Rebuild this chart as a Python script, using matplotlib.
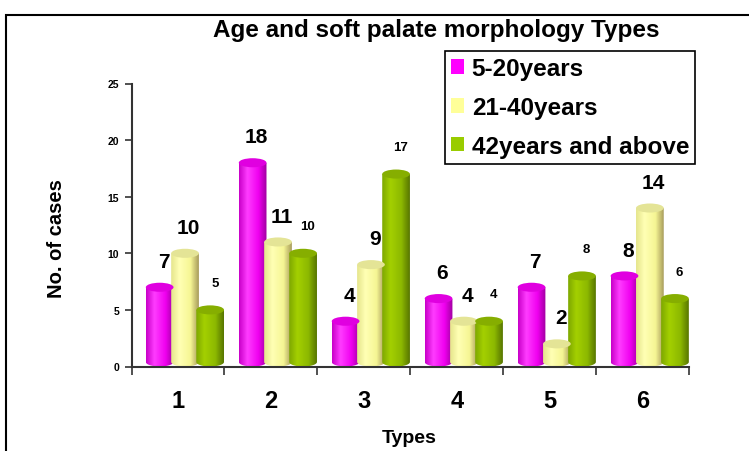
import numpy as np
import matplotlib.pyplot as plt
from matplotlib.colors import LinearSegmentedColormap
from matplotlib.patches import Ellipse, PathPatch, Patch, Rectangle
from matplotlib.path import Path

plt.rcParams['font.family'] = ['Liberation Sans', 'DejaVu Sans']
plt.rcParams['font.weight'] = 'bold'

# data
types = [1, 2, 3, 4, 5, 6]
series_names = ['5-20years', '21-40years', '42years and above']
age_5_20 = [7, 18, 4, 6, 7, 8]
age_21_40 = [10, 11, 9, 4, 2, 14]
age_42_up = [5, 10, 17, 4, 8, 6]

# cylinder shading per series: (gradient stops, top face colour, legend colour)
styles = [
    ([(0, '#C800C8'), (0.3, '#FF3CFF'), (0.7, '#F000F0'), (1, '#A000A0')], '#E000E0', '#FF00FF'),
    ([(0, '#E6E68C'), (0.3, '#FFFFB4'), (0.7, '#F6F694'), (1, '#A89C5C')], '#E4E496', '#FFFF99'),
    ([(0, '#7EA800'), (0.3, '#A4D000'), (0.7, '#8CB800'), (1, '#587600')], '#86AE00', '#99CC00'),
]
offsets = [-0.197, 0.076, 0.346]
bar_w = 0.298
ell_h = 0.8
grad = np.linspace(0, 1, 64).reshape(1, -1)

fig = plt.figure(figsize=(7.49, 4.52), dpi=100)
ax = fig.add_axes([131.5 / 749, 1 - 367.5 / 452, 557.8 / 749, 283 / 452])


def cylinder(xc, v, cmap, topc):
    x0, x1 = xc - bar_w / 2, xc + bar_w / 2
    b = ell_h / 2
    t = np.linspace(np.pi, 2 * np.pi, 30)
    arc = np.column_stack([xc + bar_w / 2 * np.cos(t), b + b * np.sin(t)])
    verts = np.vstack([[[x0, v]], arc, [[x1, v], [x0, v]]])
    body = PathPatch(Path(verts, closed=True), facecolor='none', edgecolor='none')
    ax.add_patch(body)
    im = ax.imshow(grad, cmap=cmap, extent=[x0, x1, 0, v], aspect='auto',
                   interpolation='bilinear', zorder=2)
    im.set_clip_path(body)
    ax.add_patch(Ellipse((xc, v), bar_w, ell_h, facecolor=topc,
                         edgecolor='none', zorder=3))


all_vals = [age_5_20, age_21_40, age_42_up]
for k, vals in enumerate(all_vals):
    stops, topc, _ = styles[k]
    cmap = LinearSegmentedColormap.from_list('c%d' % k, stops)
    for x, v in zip(types, vals):
        xc = x + offsets[k]
        cylinder(xc, v, cmap, topc)
        if k < 2:
            ax.text(xc + 0.04, v + 1.45, str(v), ha='center', va='bottom',
                    fontsize=15, fontweight='bold')
        else:
            ax.text(xc + 0.05, v + 1.85, str(v), ha='center', va='bottom',
                    fontsize=9.5, fontweight='bold')

ax.set_xlim(0.5, 6.5)
ax.set_ylim(0, 25)
ax.set_yticks([0, 5, 10, 15, 20, 25])
ax.set_xticks(np.arange(0.5, 7, 1))
ax.set_xticklabels([])
ax.set_xticks(types, minor=True)
ax.set_xticklabels([str(t) for t in types], minor=True, fontsize=17, fontweight='bold')
ax.tick_params(axis='x', which='minor', length=0, pad=16)
ax.tick_params(axis='x', which='major', length=6, width=1.2, color='#333333')
ax.tick_params(axis='y', length=5, width=1.2, color='#333333', labelsize=7.5, pad=4)
for s in ['top', 'right']:
    ax.spines[s].set_visible(False)
for s in ['left', 'bottom']:
    ax.spines[s].set_linewidth(1.5)
    ax.spines[s].set_color('#333333')
ax.set_facecolor('none')

fig.text(436 / 749, 1 - 31 / 452, 'Age and soft palate morphology Types',
         ha='center', va='center', fontsize=17.5, fontweight='bold')
fig.text(57 / 749, 1 - 239 / 452, 'No. of cases', rotation=90,
         ha='center', va='center', fontsize=14.5, fontweight='bold')
fig.text(409 / 749, 1 - 439 / 452, 'Types', ha='center', va='center',
         fontsize=14, fontweight='bold')

handles = [Patch(facecolor=s[2], edgecolor='none') for s in styles]
leg = fig.legend(handles, series_names, loc='upper left',
                 bbox_to_anchor=(445 / 749, 1 - 52 / 452), fancybox=False,
                 edgecolor='black', framealpha=1, prop={'size': 17.5, 'weight': 'bold'},
                 handlelength=0.55, handleheight=0.55, labelspacing=0.65,
                 borderpad=0.25, handletextpad=0.3, borderaxespad=0)
leg.get_frame().set_linewidth(1.2)

fig.patches.append(Rectangle((6 / 749, -0.1), 1.2, 1.1 - 16 / 452,
                             transform=fig.transFigure, fill=False,
                             edgecolor='black', linewidth=1.5))

fig.savefig('out.png', dpi=100)
